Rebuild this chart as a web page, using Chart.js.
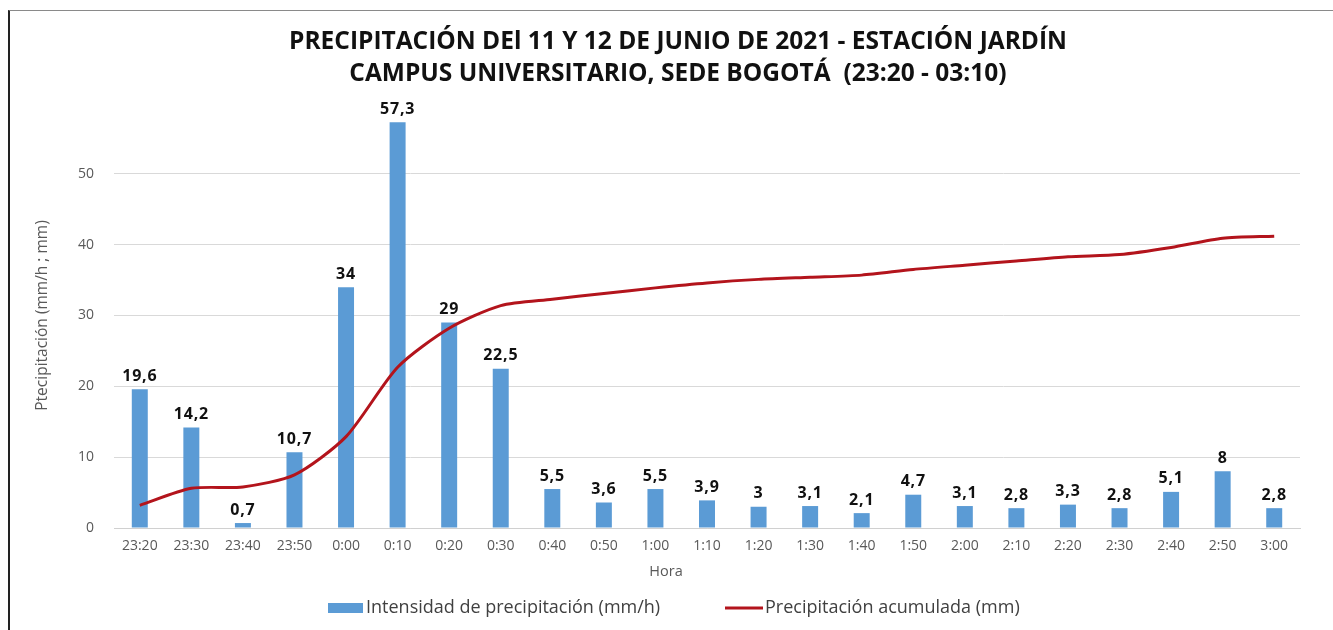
<!DOCTYPE html>
<html>
<head>
<meta charset="utf-8">
<script src="https://cdn.jsdelivr.net/npm/chart.js@4/dist/chart.umd.min.js"></script>
<style>
  html, body { margin: 0; padding: 0; background: #fff; }
  #wrap { position: relative; width: 1333px; height: 630px; }
  #frame { position: absolute; left: 8px; top: 10px; right: 0; bottom: 0;
           border-top: 1px solid #8a8a8a; border-left: 2px solid #222; pointer-events: none; }
</style>
</head>
<body>
<div id="wrap">
  <canvas id="c" width="1333" height="630"></canvas>
  <div id="frame"></div>
</div>
<script>
const categories = ["23:20","23:30","23:40","23:50","0:00","0:10","0:20","0:30","0:40","0:50","1:00","1:10","1:20","1:30","1:40","1:50","2:00","2:10","2:20","2:30","2:40","2:50","3:00"];
const intensity = [19.6,14.2,0.7,10.7,34,57.3,29,22.5,5.5,3.6,5.5,3.9,3,3.1,2.1,4.7,3.1,2.8,3.3,2.8,5.1,8,2.8];
const accumulated = [3.2,5.6,5.8,7.5,12.9,22.7,28.2,31.4,32.3,33.1,33.9,34.6,35.1,35.4,35.7,36.5,37.1,37.7,38.3,38.6,39.6,40.9,41.2];
const titleLines = ["PRECIPITACIÓN DEl 11 Y 12 DE JUNIO DE 2021 - ESTACIÓN JARDÍN", "CAMPUS UNIVERSITARIO, SEDE BOGOTÁ  (23:20 - 03:10)"];
const seriesNames = ["Intensidad de precipitación (mm/h)", "Precipitación acumulada (mm)"];
const yTitle = "Ptecipitación (mm/h ; mm)";
const xTitle = "Hora";

const sans = "'Open Sans', sans-serif";
const barColor = '#5b9bd5';
const lineColor = '#b3141c';
const fmt = v => String(v).replace('.', ',');

const extras = {
  id: 'extras',
  afterDraw(chart) {
    const ctx = chart.ctx;
    const meta = chart.getDatasetMeta(0);
    ctx.save();
    // data labels
    ctx.font = "bold 16px " + sans;
    ctx.fillStyle = '#111';
    ctx.textAlign = 'center';
    ctx.textBaseline = 'bottom';
    if ('letterSpacing' in ctx) ctx.letterSpacing = '0.8px';
    meta.data.forEach((bar, i) => {
      ctx.fillText(fmt(intensity[i]), bar.x, bar.y - 5);
    });
    if ('letterSpacing' in ctx) ctx.letterSpacing = '0px';
    // title
    ctx.font = "bold 24.5px " + sans;
    ctx.fillStyle = '#111';
    ctx.textBaseline = 'middle';
    ctx.fillText(titleLines[0], 678, 42);
    ctx.fillText(titleLines[1], 678, 74);
    // x-axis title
    ctx.font = "14.5px " + sans;
    ctx.fillStyle = '#595959';
    ctx.fillText(xTitle, 666, 572);
    // legend
    const ly = 608;
    ctx.fillStyle = barColor;
    ctx.fillRect(328, ly - 5, 35, 10);
    ctx.strokeStyle = lineColor;
    ctx.lineWidth = 3;
    ctx.beginPath();
    ctx.moveTo(725, ly);
    ctx.lineTo(763, ly);
    ctx.stroke();
    ctx.font = "18px " + sans;
    ctx.fillStyle = '#404040';
    ctx.textAlign = 'left';
    ctx.fillText(seriesNames[0], 366, ly);
    ctx.fillText(seriesNames[1], 765, ly);
    ctx.restore();
  }
};

new Chart(document.getElementById('c'), {
  type: 'bar',
  data: {
    labels: categories,
    datasets: [
      {
        type: 'bar',
        label: seriesNames[0],
        data: intensity,
        backgroundColor: barColor,
        borderWidth: 0,
        barPercentage: 0.31,
        categoryPercentage: 1.0,
        order: 1
      },
      {
        type: 'line',
        label: seriesNames[1],
        data: accumulated,
        borderColor: lineColor,
        backgroundColor: lineColor,
        borderWidth: 3,
        pointRadius: 0,
        tension: 0.25,
        order: 0
      }
    ]
  },
  options: {
    responsive: false,
    animation: false,
    devicePixelRatio: 1,
    layout: { padding: { left: 30, right: 33, top: 103, bottom: 41 } },
    plugins: {
      tooltip: { enabled: false },
      title: { display: false },
      legend: { display: false }
    },
    scales: {
      x: {
        grid: { display: false, drawTicks: false },
        border: { display: true, color: '#d0d0d0' },
        ticks: { color: '#595959', font: { family: sans, size: 14 }, padding: 10, maxRotation: 0, autoSkip: false },
        title: { display: false },
        afterFit(s) { s.height = 61; }
      },
      y: {
        min: 0, max: 60,
        ticks: { stepSize: 10, color: '#595959', font: { family: sans, size: 14 }, padding: 20,
                 callback: v => v === 60 ? '' : v },
        grid: { drawTicks: false, color: ctx => (ctx.tick && ctx.tick.value === 60) ? 'rgba(0,0,0,0)' : '#d9d9d9' },
        border: { display: false },
        title: { display: true, text: yTitle, color: '#595959', font: { family: sans, size: 15.5 }, padding: { top: 3, bottom: 0 } },
        afterFit(s) { s.width = 84; }
      }
    }
  },
  plugins: [extras]
});
</script>
</body>
</html>
